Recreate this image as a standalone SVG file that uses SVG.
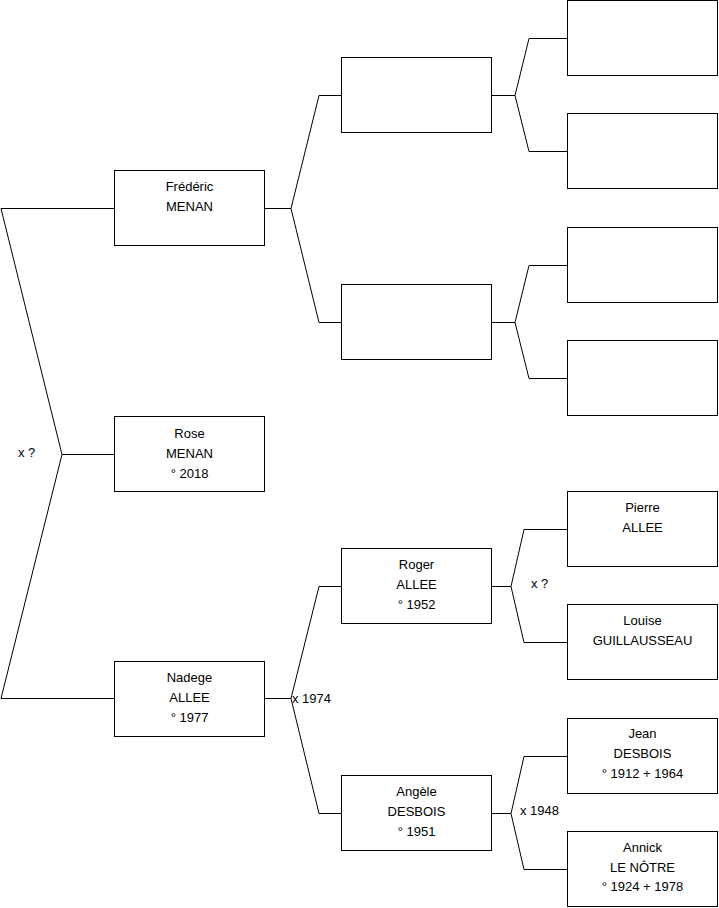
<svg xmlns="http://www.w3.org/2000/svg" width="719" height="908" viewBox="0 0 719 908">
<style>
.box{fill:#fff;stroke:#000;stroke-width:1}
.ln{fill:none;stroke:#000;stroke-width:1}
text{font-family:"Liberation Sans",Arial,sans-serif;font-size:13px;fill:#000}
.c{text-anchor:middle}
</style>
<rect width="719" height="908" fill="#fff"/>
<g id="connectors">
<polyline class="ln" points="114,208.5 1,208.5 62,454.5 1,698.5 114,698.5"/>
<line class="ln" x1="62" y1="454.5" x2="114" y2="454.5"/>
<polyline class="ln" points="341,95.5 319,95.5 291,208.5 319,322.5 341,322.5"/>
<line class="ln" x1="265" y1="208.5" x2="291" y2="208.5"/>
<polyline class="ln" points="567,38.5 529,38.5 515,95.5 529,151.5 567,151.5"/>
<line class="ln" x1="492" y1="95.5" x2="515" y2="95.5"/>
<polyline class="ln" points="567,265.5 529,265.5 515,322.5 529,378.5 567,378.5"/>
<line class="ln" x1="492" y1="322.5" x2="515" y2="322.5"/>
<polyline class="ln" points="341,586.5 319,586.5 291,698.5 319,813.5 341,813.5"/>
<line class="ln" x1="265" y1="698.5" x2="291" y2="698.5"/>
<polyline class="ln" points="567,529.5 524,529.5 511,586.5 524,642.5 567,642.5"/>
<line class="ln" x1="492" y1="586.5" x2="511" y2="586.5"/>
<polyline class="ln" points="567,756.5 524,756.5 511,813.5 524,869.5 567,869.5"/>
<line class="ln" x1="492" y1="813.5" x2="511" y2="813.5"/>
<text x="18" y="457">x ?</text>
<text x="292" y="703">x 1974</text>
<text x="531" y="588">x ?</text>
<text x="520" y="815">x 1948</text>
</g>
<g id="frederic"><rect class="box" x="114.5" y="170.5" width="150" height="75"/><text class="c" x="189.5" y="191">Frédéric</text><text class="c" x="189.5" y="211">MENAN</text></g>
<g id="rose"><rect class="box" x="114.5" y="416.5" width="150" height="75"/><text class="c" x="189.5" y="438">Rose</text><text class="c" x="189.5" y="458">MENAN</text><text class="c" x="189.5" y="478">° 2018</text></g>
<g id="nadege"><rect class="box" x="114.5" y="661.5" width="150" height="75"/><text class="c" x="189.5" y="682">Nadege</text><text class="c" x="189.5" y="702">ALLEE</text><text class="c" x="189.5" y="722">° 1977</text></g>
<g id="f-father"><rect class="box" x="341.5" y="57.5" width="150" height="75"/></g>
<g id="f-mother"><rect class="box" x="341.5" y="284.5" width="150" height="75"/></g>
<g id="roger"><rect class="box" x="341.5" y="548.5" width="150" height="75"/><text class="c" x="416.5" y="569">Roger</text><text class="c" x="416.5" y="589">ALLEE</text><text class="c" x="416.5" y="609">° 1952</text></g>
<g id="angele"><rect class="box" x="341.5" y="775.5" width="150" height="75"/><text class="c" x="416.5" y="796">Angèle</text><text class="c" x="416.5" y="816">DESBOIS</text><text class="c" x="416.5" y="836">° 1951</text></g>
<g id="g1"><rect class="box" x="567.5" y="0.5" width="150" height="75"/></g>
<g id="g2"><rect class="box" x="567.5" y="113.5" width="150" height="75"/></g>
<g id="g3"><rect class="box" x="567.5" y="227.5" width="150" height="75"/></g>
<g id="g4"><rect class="box" x="567.5" y="340.5" width="150" height="75"/></g>
<g id="pierre"><rect class="box" x="567.5" y="491.5" width="150" height="75"/><text class="c" x="642.5" y="512">Pierre</text><text class="c" x="642.5" y="532">ALLEE</text></g>
<g id="louise"><rect class="box" x="567.5" y="604.5" width="150" height="75"/><text class="c" x="642.5" y="625">Louise</text><text class="c" x="642.5" y="645">GUILLAUSSEAU</text></g>
<g id="jean"><rect class="box" x="567.5" y="718.5" width="150" height="75"/><text class="c" x="642.5" y="738">Jean</text><text class="c" x="642.5" y="758">DESBOIS</text><text class="c" x="642.5" y="778">° 1912 + 1964</text></g>
<g id="annick"><rect class="box" x="567.5" y="831.5" width="150" height="75"/><text class="c" x="642.5" y="852">Annick</text><text class="c" x="642.5" y="872">LE NÔTRE</text><text class="c" x="642.5" y="891">° 1924 + 1978</text></g>
</svg>
